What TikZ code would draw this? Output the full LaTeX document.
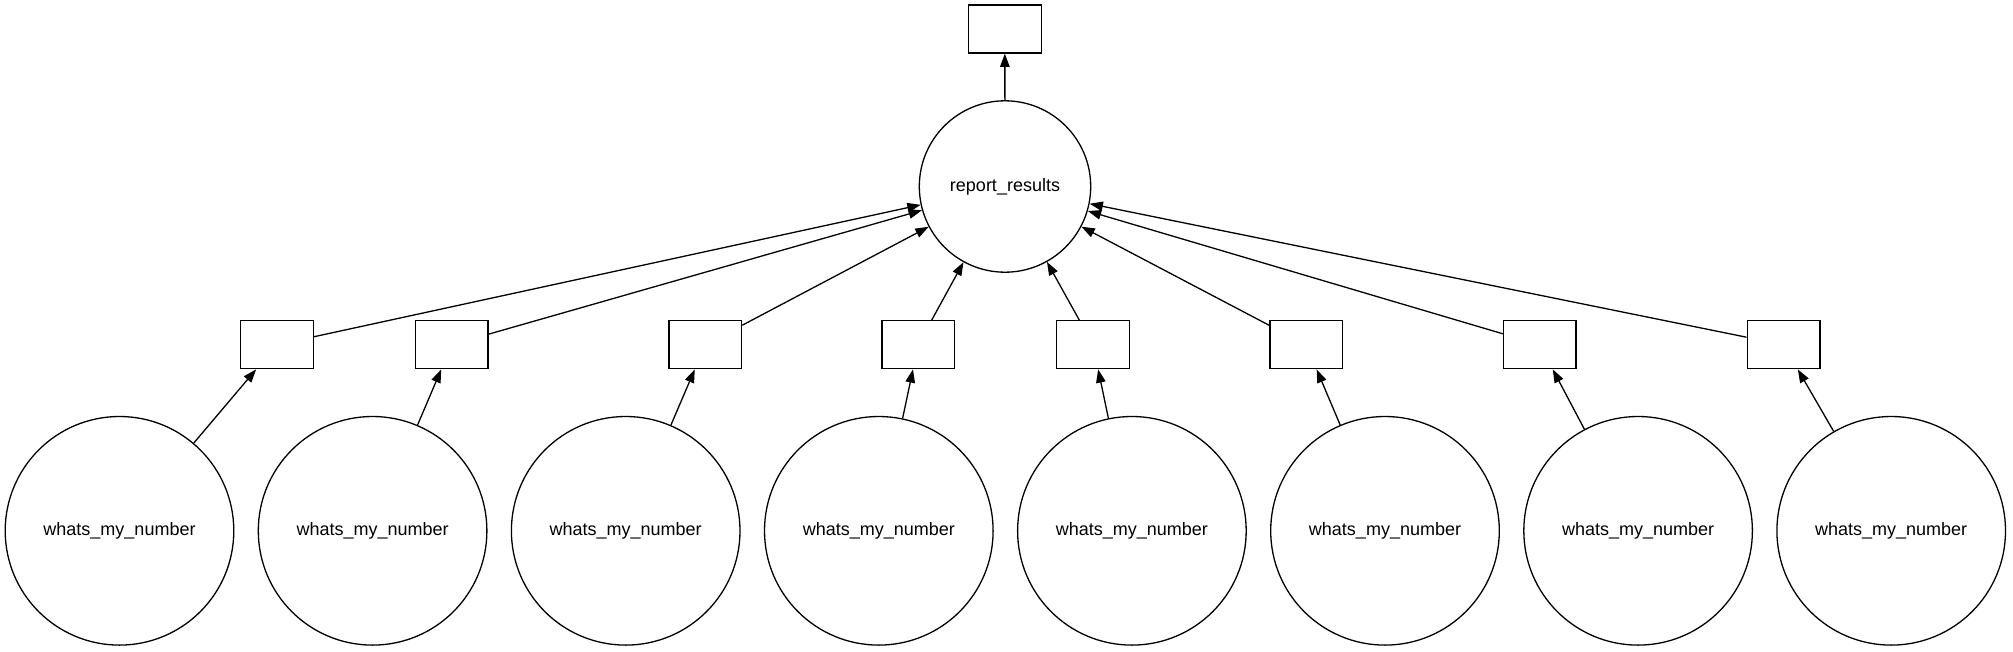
\documentclass[tikz,border=0pt]{standalone}
\usepackage{fontspec}
\setmainfont{Liberation Sans}
\usetikzlibrary{arrows.meta}
\tikzset{
  edge/.style={draw, line width=1.3pt, -{Triangle[length=13.3pt,width=9.5pt]}},
  taskbox/.style={draw, line width=1.3pt, rectangle, minimum width=72.7pt, minimum height=48pt, inner sep=0pt},
  bigcirc/.style={draw, line width=1.3pt, circle, minimum size=228.6pt, inner sep=0pt, font=\fontsize{18}{20}\selectfont},
  midcirc/.style={draw, line width=1.3pt, circle, minimum size=171.4pt, inner sep=0pt, font=\fontsize{18}{20}\selectfont}
}
\begin{document}
\begin{tikzpicture}[x=1pt,y=-1pt]
\useasboundingbox (0,0) rectangle (2013,651);
\node[taskbox] (top) at (1004.8,29) {};
\node[midcirc] (rr) at (1005,186.5) {report\_results};
\foreach \i/\bx/\cx in {1/277/119.5, 2/451.7/372.6, 3/705.3/625.7, 4/918.2/878.8, 5/1093/1131.9, 6/1306.2/1385, 7/1539.7/1638.1, 8/1783.5/1891.2} {
  \node[taskbox] (b\i) at (\bx,344.7) {};
  \node[bigcirc] (c\i) at (\cx,530.8) {whats\_my\_number};
  \draw[edge] (c\i) -- (b\i);
  \draw[edge] (b\i) -- (rr);
}
\draw[edge] (rr) -- (top);
\end{tikzpicture}
\end{document}
